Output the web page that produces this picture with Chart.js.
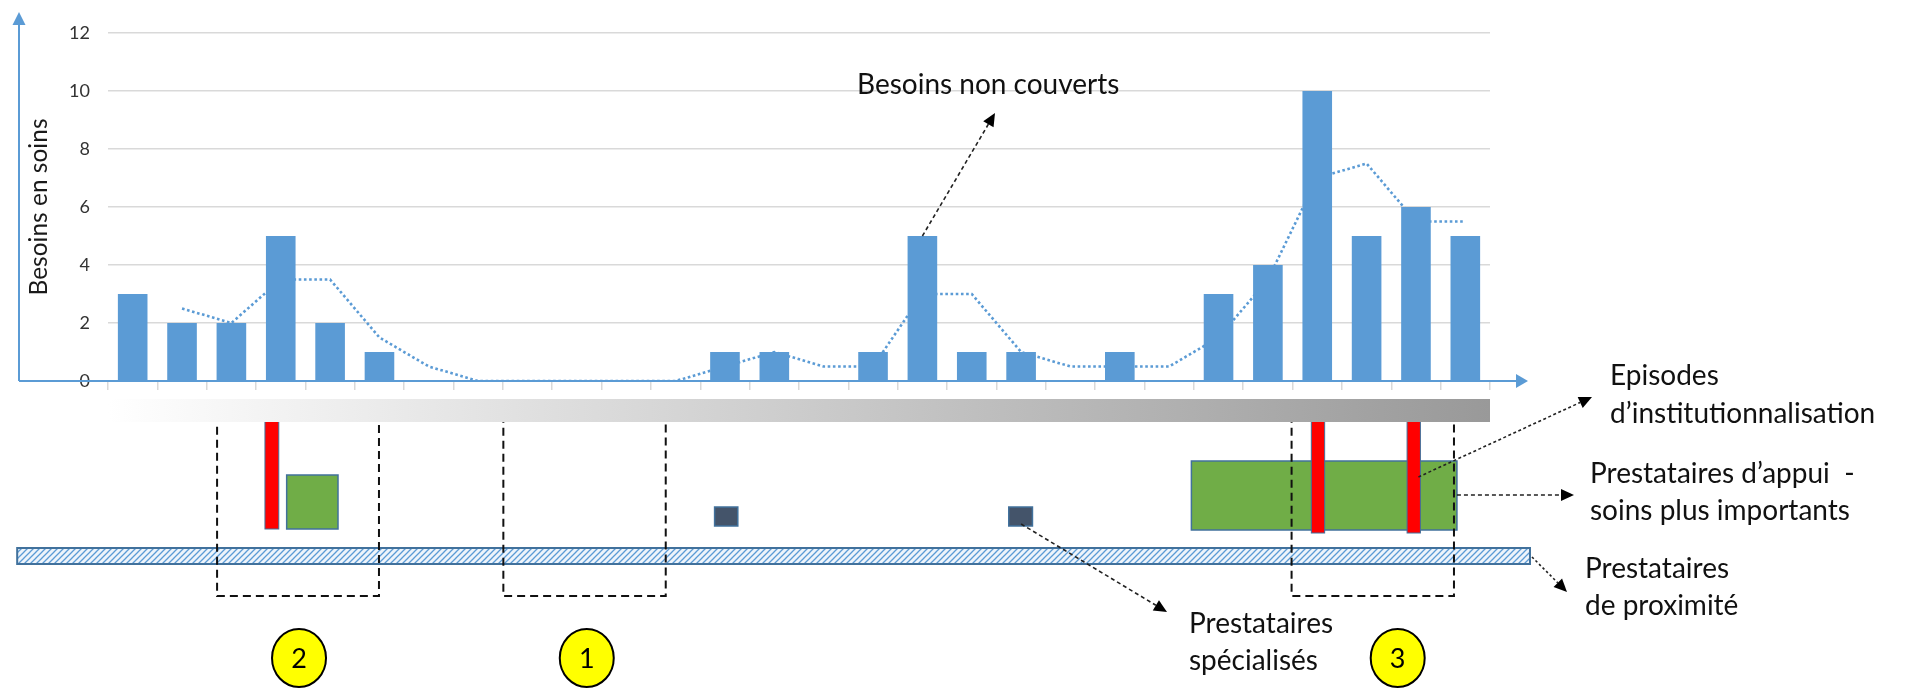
<!DOCTYPE html>
<html>
<head>
<meta charset="utf-8">
<script src="https://cdn.jsdelivr.net/npm/chart.js@4.4.1/dist/chart.umd.min.js"></script>
<style>
html,body{margin:0;padding:0;background:#fff;overflow:hidden;}
#wrap{position:relative;width:1907px;height:688px;}
</style>
</head>
<body>
<div id="wrap"><canvas id="c"></canvas></div>
<script>
// ---- data ----
const categories = ['1','2','3','4','5','6','7','8','9','10','11','12','13','14','15','16','17','18','19','20','21','22','23','24','25','26','27','28'];
const besoins = [3,2,2,5,2,1,0,0,0,0,0,0,1,1,0,1,5,1,1,0,1,0,3,4,10,5,6,5];
const moyenneMobile = [null,2.5,2,3.5,3.5,1.5,0.5,0,0,0,0,0,0.5,1,0.5,0.5,3,3,1,0.5,0.5,0.5,1.5,3.5,7,7.5,5.5,5.5];
const yTicks = [0,2,4,6,8,10,12];

// ---- diagram annotations (category units along the x scale) ----
const zonesPointillees = [[2.21,5.49],[8.01,11.3],[23.98,27.27]];
const zonesNumeros = [['2',3.87],['1',9.70],['3',26.13]];
const episodesInstit = [[3.18,3.46,529],[24.38,24.65,533],[26.32,26.59,533]];
const appuiBoxes = [[3.62,4.66,475,529],[21.95,27.33,461,530]];
const specialises = [[12.29,12.76],[18.25,18.73]];
const proximite = [-1.84,28.81];

const BLUE = '#5B9BD5';
const FONT = 'Lato';

function arrow(ctx, x1, y1, x2, y2, dash, head) {
  head = head || 13;
  const a = Math.atan2(y2 - y1, x2 - x1);
  const bx = x2 - head * Math.cos(a), by = y2 - head * Math.sin(a);
  ctx.save();
  ctx.strokeStyle = '#222'; ctx.lineWidth = 1.6; ctx.setLineDash(dash);
  ctx.beginPath(); ctx.moveTo(x1, y1); ctx.lineTo(bx, by); ctx.stroke();
  ctx.setLineDash([]);
  ctx.fillStyle = '#000';
  const w = 6;
  ctx.beginPath();
  ctx.moveTo(x2, y2);
  ctx.lineTo(bx + w * Math.sin(a), by - w * Math.cos(a));
  ctx.lineTo(bx - w * Math.sin(a), by + w * Math.cos(a));
  ctx.closePath(); ctx.fill();
  ctx.restore();
}

const diagram = {
  id: 'diagram',
  afterDraw(chart) {
    const {ctx, scales: {x, y}} = chart;
    const X = u => x.getPixelForValue(u - 0.5);
    const n = categories.length;
    const y0 = y.getPixelForValue(0);
    const yTop = y.getPixelForValue(12);
    ctx.save();

    // axis arrows
    ctx.strokeStyle = BLUE; ctx.fillStyle = BLUE; ctx.lineWidth = 2;
    const ax = 19;
    ctx.beginPath(); ctx.moveTo(ax, y0); ctx.lineTo(ax, yTop - 9); ctx.stroke();
    ctx.beginPath(); ctx.moveTo(ax, yTop - 21); ctx.lineTo(ax - 6.5, yTop - 8); ctx.lineTo(ax + 6.5, yTop - 8); ctx.closePath(); ctx.fill();
    const xEnd = X(n) + 38;
    ctx.beginPath(); ctx.moveTo(ax, y0); ctx.lineTo(xEnd - 11, y0); ctx.stroke();
    ctx.beginPath(); ctx.moveTo(xEnd, y0); ctx.lineTo(xEnd - 12, y0 - 7); ctx.lineTo(xEnd - 12, y0 + 7); ctx.closePath(); ctx.fill();

    // hatched "proximité" band
    const pc = document.createElement('canvas'); pc.width = 6; pc.height = 6;
    const p = pc.getContext('2d');
    p.fillStyle = '#eef4fb'; p.fillRect(0,0,6,6);
    p.strokeStyle = BLUE; p.lineWidth = 1.3;
    p.beginPath(); p.moveTo(-1,7); p.lineTo(7,-1); p.moveTo(-4,4); p.lineTo(4,-4); p.moveTo(2,10); p.lineTo(10,2); p.stroke();
    ctx.fillStyle = ctx.createPattern(pc, 'repeat');
    const hx1 = X(proximite[0]), hx2 = X(proximite[1]);
    ctx.fillRect(hx1, 548, hx2 - hx1, 16);
    ctx.strokeStyle = '#41719C'; ctx.lineWidth = 2;
    ctx.strokeRect(hx1, 548, hx2 - hx1, 16);

    // green boxes
    appuiBoxes.forEach(([a, b, t, bt]) => {
      ctx.fillStyle = '#70AD47'; ctx.fillRect(X(a), t, X(b) - X(a), bt - t);
      ctx.strokeStyle = '#41719C'; ctx.lineWidth = 1.5; ctx.strokeRect(X(a), t, X(b) - X(a), bt - t);
    });
    // red bars
    episodesInstit.forEach(([a, b, bt]) => {
      ctx.fillStyle = '#FF0000'; ctx.fillRect(X(a), 410, X(b) - X(a), bt - 410);
      ctx.strokeStyle = '#41719C'; ctx.lineWidth = 1; ctx.strokeRect(X(a), 410, X(b) - X(a), bt - 410);
    });
    // specialised squares
    specialises.forEach(([a, b]) => {
      ctx.fillStyle = '#44546A'; ctx.fillRect(X(a), 507, X(b) - X(a), 19);
      ctx.strokeStyle = '#41719C'; ctx.lineWidth = 1.5; ctx.strokeRect(X(a), 507, X(b) - X(a), 19);
    });
    // dashed zones
    ctx.strokeStyle = '#111'; ctx.lineWidth = 2; ctx.setLineDash([8, 5]);
    zonesPointillees.forEach(([a, b]) => {
      ctx.strokeRect(X(a), 405, X(b) - X(a), 596 - 405);
    });
    ctx.setLineDash([]);

    // gradient band
    const g = ctx.createLinearGradient(X(0), 0, X(n), 0);
    g.addColorStop(0, '#ffffff'); g.addColorStop(1, '#999999');
    ctx.fillStyle = g; ctx.fillRect(X(0), 399, X(n) - X(0), 23);

    // numbered circles
    zonesNumeros.forEach(([t, u]) => {
      const cx = X(u);
      ctx.beginPath(); ctx.ellipse(cx, 658, 27, 29, 0, 0, Math.PI * 2);
      ctx.fillStyle = '#FFFF00'; ctx.fill();
      ctx.strokeStyle = '#000'; ctx.lineWidth = 2; ctx.stroke();
      ctx.fillStyle = '#000'; ctx.font = '27px ' + FONT; ctx.textAlign = 'center'; ctx.textBaseline = 'middle';
      ctx.fillText(t, cx, 659);
    });

    // annotation arrows
    arrow(ctx, x.getPixelForValue(16), y.getPixelForValue(besoins[16]), 995, 113, [4, 3]);
    arrow(ctx, X(26.55), 477, 1592, 397, [3, 2.5]);
    arrow(ctx, X(27.33), 495, 1574, 495, [4, 3]);
    arrow(ctx, X(28.81) + 2, 557, 1567, 592, [2.5, 2.5]);
    arrow(ctx, X(18.5), 524, 1167, 612, [4, 3]);

    // annotation texts
    ctx.fillStyle = '#111'; ctx.font = '28px ' + FONT; ctx.textAlign = 'left'; ctx.textBaseline = 'alphabetic';
    ctx.fillText('Besoins non couverts', 857, 94);
    ctx.fillText('Episodes', 1610, 385);
    ctx.fillText('d\u2019institutionnalisation', 1610, 423);
    ctx.fillText('Prestataires d\u2019appui  -', 1590, 483);
    ctx.fillText('soins plus importants', 1590, 520);
    ctx.fillText('Prestataires', 1585, 578);
    ctx.fillText('de proximit\u00e9', 1585, 615);
    ctx.fillText('Prestataires', 1189, 633);
    ctx.fillText('sp\u00e9cialis\u00e9s', 1189, 670);
    ctx.restore();
  }
};

function build() {
  new Chart(document.getElementById('c'), {
    type: 'bar',
    data: {
      labels: categories,
      datasets: [
        { type: 'bar', label: 'Besoins en soins', data: besoins, backgroundColor: BLUE, borderWidth: 0,
          barPercentage: 0.6, categoryPercentage: 1.0, order: 1 },
        { type: 'line', label: 'Moyenne mobile', data: moyenneMobile, borderColor: BLUE, borderWidth: 2.6,
          borderDash: [2.6, 2.6], pointRadius: 0, fill: false, tension: 0, spanGaps: false, order: 2 }
      ]
    },
    options: {
      responsive: true, maintainAspectRatio: false, animation: false,
      layout: { padding: { top: 33, right: 417, bottom: 298, left: 0 } },
      plugins: { legend: { display: false }, tooltip: { enabled: false } },
      scales: {
        x: {
          grid: { display: true, drawOnChartArea: false, drawTicks: true, tickLength: 9, color: '#d9d9d9', lineWidth: 1.5, offset: true },
          border: { display: false },
          ticks: { display: false },
          afterFit(s) { s.height = 9; }
        },
        y: {
          min: 0, max: 12,
          afterBuildTicks(s) { s.ticks = yTicks.map(v => ({ value: v })); },
          ticks: { padding: 18, color: '#333', font: { family: FONT, size: 18 } },
          grid: { color: '#d9d9d9', lineWidth: 1.5, drawTicks: false },
          border: { display: false },
          title: { display: true, text: 'Besoins en soins', color: '#1a1a1a', font: { family: FONT, size: 24.5 }, padding: { top: 24, bottom: 0 } },
          afterFit(s) { s.width = 108; }
        }
      }
    },
    plugins: [diagram]
  });
}
if (document.fonts && document.fonts.load) {
  Promise.all([document.fonts.load('28px Lato'), document.fonts.load('18px Lato')]).then(build, build);
} else build();
</script>
</body>
</html>
